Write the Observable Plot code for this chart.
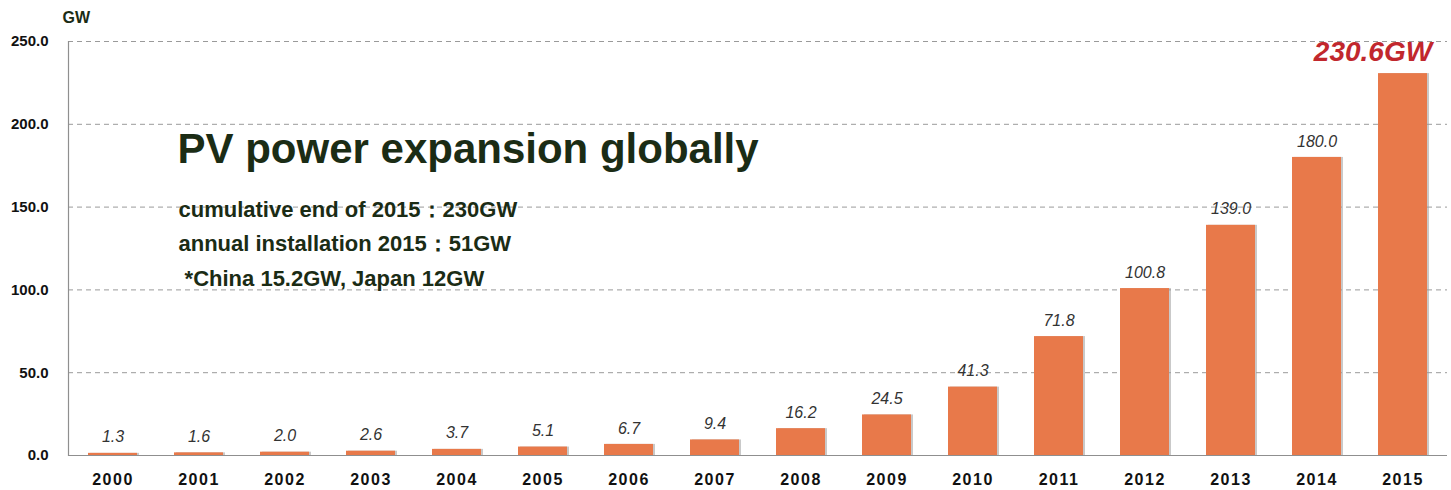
<!DOCTYPE html>
<html>
<head>
<meta charset="utf-8">
<script src="https://cdn.jsdelivr.net/npm/d3@7"></script>
<script src="https://cdn.jsdelivr.net/npm/@observablehq/plot@0.6"></script>
<style>
  html, body { margin: 0; padding: 0; background: #fff; }
  #chart svg { font-family: "Liberation Sans", Arial, Helvetica, sans-serif; }
</style>
</head>
<body>
<div id="chart"></div>
<script>
const years = ["2000","2001","2002","2003","2004","2005","2006","2007","2008","2009","2010","2011","2012","2013","2014","2015"];
const values = [1.3, 1.6, 2.0, 2.6, 3.7, 5.1, 6.7, 9.4, 16.2, 24.5, 41.3, 71.8, 100.8, 139.0, 180.0, 230.6];
const yTicks = [0, 50, 100, 150, 200, 250];
const unitLabel = "GW";
const title = "PV power expansion globally";
const notes = ["cumulative end of 2015：230GW", "annual installation 2015：51GW", " *China 15.2GW, Japan 12GW"];
const highlightLabel = "230.6GW";

const data = years.map((y, i) => ({year: y, value: values[i]}));
const regular = data.slice(0, -1);
const last = data.slice(-1);

const green = "#1b2c15";

const chart = Plot.plot({
  width: 1451,
  height: 490,
  marginLeft: 68,
  marginRight: 4,
  marginTop: 41,
  marginBottom: 35,
  style: {fontFamily: "'Liberation Sans', Arial, sans-serif", background: "#fff", overflow: "visible"},
  x: {domain: years, paddingInner: 0.43, paddingOuter: 0.215, label: null},
  y: {domain: [0, 250], ticks: yTicks, label: null},
  marks: [
    Plot.ruleY(yTicks.filter(d => d > 0), {stroke: "#9a9a9a", strokeDasharray: "5,4", strokeWidth: 1}),
    Plot.barY(data, {x: "year", y: "value", fill: "#9d9d9d", fillOpacity: 0.55, dx: 2}),
    Plot.barY(data, {x: "year", y: "value", fill: "#e8794a"}),
    Plot.ruleY([0], {stroke: "#8f8f8f", strokeWidth: 1.2}),
    Plot.frame({anchor: "left", stroke: "#8f8f8f", strokeWidth: 1.2}),
    Plot.axisY({ticks: yTicks, tickSize: 0, tickPadding: 20, tickFormat: d3.format(".1f"), fontSize: 15, fontWeight: "bold", fill: "#111", label: null}),
    Plot.axisX({tickSize: 0, tickPadding: 18, fontSize: 16, fontWeight: "bold", fill: "#111", label: null}),
    Plot.text(regular, {x: "year", y: "value", text: d => d3.format(".1f")(d.value), dy: -16, fontSize: 16, fontStyle: "italic", fill: "#333"}),
    Plot.text(last, {x: "year", y: "value", text: () => highlightLabel, dx: -30, dy: -22, fontSize: 28, fontStyle: "italic", fontWeight: "bold", fill: "#c1272d"}),
    Plot.text([unitLabel], {frameAnchor: "top-left", lineAnchor: "middle", textAnchor: "start", dx: -6, dy: -24, fontSize: 16, fontWeight: "bold", fill: green}),
    Plot.text([title], {frameAnchor: "top-left", lineAnchor: "middle", textAnchor: "start", dx: 109, dy: 108, fontSize: 42, fontWeight: "bold", fill: green}),
    Plot.text([notes[0]], {frameAnchor: "top-left", lineAnchor: "middle", textAnchor: "start", dx: 110, dy: 168, fontSize: 22, fontWeight: "bold", fill: green}),
    Plot.text([notes[1]], {frameAnchor: "top-left", lineAnchor: "middle", textAnchor: "start", dx: 110, dy: 202, fontSize: 22, fontWeight: "bold", fill: green}),
    Plot.text([notes[2]], {frameAnchor: "top-left", lineAnchor: "middle", textAnchor: "start", dx: 110, dy: 237, fontSize: 22, fontWeight: "bold", fill: green, style: {whiteSpace: "pre"}})
  ]
});
document.getElementById("chart").appendChild(chart);
d3.select(chart).selectAll("[aria-label='x-axis tick label'] text").style("letter-spacing", "1.5px");
</script>
</body>
</html>
